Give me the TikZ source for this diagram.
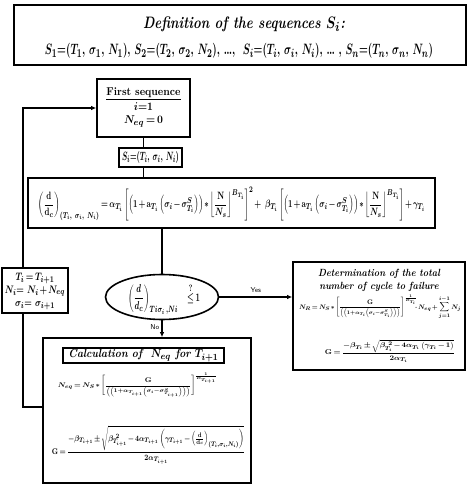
\documentclass[tikz,border=0pt]{standalone}
\usepackage{amsmath,amssymb,graphicx}
\usetikzlibrary{shapes.geometric,arrows.meta}
\DeclareMathSizes{10}{10}{8}{6.5}
\newcommand{\fitbox}[3]{\resizebox*{#1}{#2}{\medmuskip=2mu\thickmuskip=3mu #3}}
\begin{document}
\begin{tikzpicture}[x=1pt,y=-1pt,
  every node/.style={font=\bfseries\boldmath, inner sep=0pt},
  box/.style={draw, line width=1.6pt},
  conn/.style={line width=1.5pt},
  arr/.style={conn, -{Latex[length=5pt,width=4.5pt]}},
  lbl/.style={font=\sffamily\fontsize{7}{8}\selectfont}]
\useasboundingbox (0,0) rectangle (474,485);

% top definition box
\node[box, minimum width=452pt, minimum height=60pt] (top) at (240,35) {};
\node (t1) at (244,24) {\fitbox{202pt}{15pt}{\itshape Definition of the sequences $S_i$:}};
\node (t2) at (239,51) {\fitbox{388pt}{15pt}{$S_1$=($T_1$, $\sigma_1$, $N_1$), $S_2$=($T_2$, $\sigma_2$, $N_2$), \dots,\ \ $S_i$=($T_i$, $\sigma_i$, $N_i$), \dots\ , $S_n$=($T_n$, $\sigma_n$, $N_n$)}};

% first sequence
\node[box, minimum width=93pt, minimum height=58pt] (first) at (143.5,108) {};
\node (firstt) at (143.5,107) {\fitbox{74pt}{42pt}{\begin{tabular}{@{}c@{}}\underline{First sequence}\\[1pt] $i$=1\\ $N_{eq}=0$\end{tabular}}};

% S_i
\node[box, minimum width=63pt, minimum height=19pt] (si) at (150.5,157.5) {\fitbox{57pt}{12pt}{$S_i$=($T_i$, $\sigma_i$, $N_i$)}};

% equation box
\node[box, minimum width=407pt, minimum height=50pt] (eq) at (231.5,203) {};
\node (eqt) at (231.5,204) {\fitbox{387pt}{34pt}{$\displaystyle \left(\frac{\mathrm{d}}{\mathrm{d}_c}\right)_{(T_i,\ \sigma_i,\ N_i)} = \alpha_{T_i}\left[\left(1+\mathrm{a}_{T_i}\left(\sigma_i-\sigma^{S}_{T_i}\right)\right)\ast\left\lfloor\frac{\mathrm{N}}{N_s}\right\rfloor^{B_{T_i}}\right]^{2} +\ \beta_{T_i}\left[\left(1+\mathrm{a}_{T_i}\left(\sigma_i-\sigma^{S}_{T_i}\right)\right)\ast\left\lfloor\frac{\mathrm{N}}{N_s}\right\rfloor^{B_{T_i}}\right]+\gamma_{T_i}$}};

% decision ellipse
\node[box, ellipse, minimum width=113pt, minimum height=45pt] (dec) at (162,297) {};
\node (dect) at (164,299) {\fitbox{72pt}{31pt}{$\displaystyle \left(\frac{d}{d_c}\right)_{Ti\sigma_i\,,Ni}\quad\overset{?}{\leq}1$}};

% update box
\node[box, minimum width=66pt, minimum height=45pt] (upd) at (35,290.5) {};
\node (updt) at (35,290.5) {\fitbox{60pt}{39pt}{\begin{tabular}{@{}c@{}}$T_i = T_{i+1}$\\ $N_i$= $N_i + N_{eq}$\\ $\sigma_i$= $\sigma_{i+1}$\end{tabular}}};

% determination box
\node[box, minimum width=172pt, minimum height=108pt] (det) at (379,316) {};
\node (dett) at (379,280.5) {\fitbox{122pt}{25pt}{\itshape\begin{tabular}{@{}c@{}}Determination of the total\\ number of cycle to failure\end{tabular}}};
\node (nr) at (380,307) {\fitbox{162pt}{24pt}{$\displaystyle N_R = N_S\ast\left[\frac{\mathrm{G}}{\scriptstyle\left(\left(1+\alpha_{T_i}\left(\sigma_i-\sigma^{S}_{T_i}\right)\right)\right)}\right]^{\frac{1}{B_{T_i}}}\!\!\cdot N_{eq}+\sum_{j=1}^{i-1}N_j$}};
\node (gdet) at (390,351) {\fitbox{130pt}{23pt}{$\displaystyle \mathrm{G} = \frac{-\beta_{T_i}\pm\sqrt{\beta_{T_i}^{\ 2}-4\alpha_{T_i}\left(\gamma_{T_i}-1\right)}}{2\alpha_{T_i}}$}};

% calculation box
\node[box, minimum width=208pt, minimum height=145pt] (calc) at (147,410.5) {};
\node[box, line width=1.4pt, minimum width=161pt, minimum height=15pt] (ct) at (143.5,355.5) {\fitbox{150pt}{12pt}{\itshape Calculation of\ \ $N_{eq}$ for $T_{i+1}$}};
\node (neq) at (137.5,385) {\fitbox{159pt}{24pt}{$\displaystyle N_{eq} = N_S\ast\left[\frac{\mathrm{G}}{\scriptstyle\left(\left(1+\alpha_{T_{i+1}}\left(\sigma_i-\sigma^{S}_{T_{i+1}}\right)\right)\right)}\right]^{\frac{1}{B_{T_{i+1}}}}$}};
\node (gcalc) at (148.5,445) {\fitbox{193pt}{38pt}{$\displaystyle \mathrm{G} = \frac{-\beta_{T_{i+1}}\pm\sqrt{\beta_{T_{i+1}}^{\ 2}-4\alpha_{T_{i+1}}\left(\gamma_{T_{i+1}}-\left(\frac{\mathrm{d}}{\mathrm{d}_c}\right)_{(T_i,\sigma_i,N_i)}\right)}}{2\alpha_{T_{i+1}}}$}};

% connectors
\coordinate (fb) at (23,407);
\coordinate (fbtop) at (23,108);
\draw[conn] (first.south) -- (first.south |- si.north);
\draw[conn] (first.south |- si.south) -- (first.south |- eq.north);
\draw[conn] (dec.north |- eq.south) -- (dec.north);
\draw[arr] (dec.east) -- node[lbl, above=4pt] (yes) {Yes} (det.west |- dec.east);
\draw[arr] (dec.south) -- node[lbl, left=2pt, pos=0.4] (no) {No} (calc.north -| dec.south);
\draw[conn] (calc.west |- fb) -- (fb) -- (fb |- upd.south);
\draw[arr] (fb |- upd.north) -- (fbtop) -- (first.west |- fbtop);
\end{tikzpicture}
\end{document}
